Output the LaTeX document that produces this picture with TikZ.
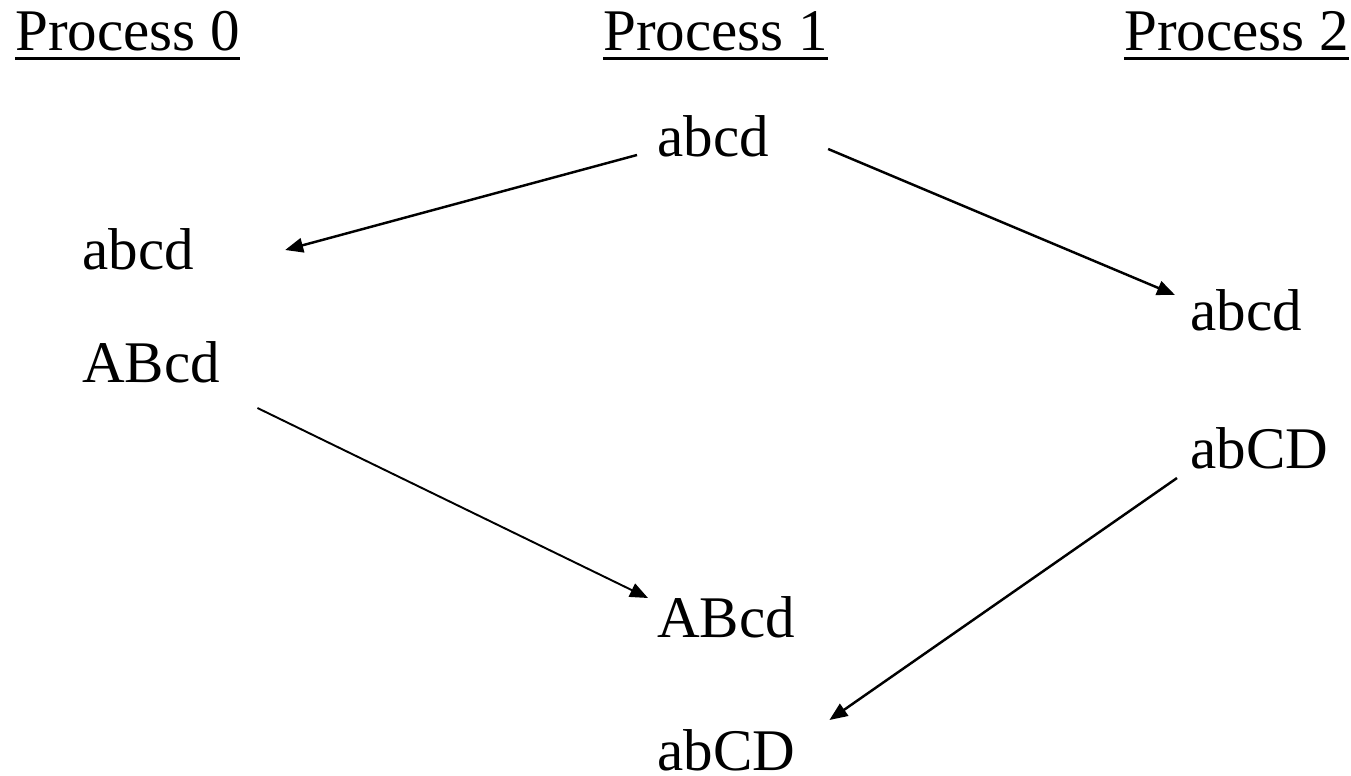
\documentclass[tikz,border=0pt]{standalone}
\usepackage{fontspec}
\setmainfont{Liberation Serif}
\usetikzlibrary{arrows.meta}
\tikzset{
  lbl/.style={inner sep=0pt, anchor=base west, font=\fontsize{33.6pt}{40pt}\selectfont},
  msg/.style={-{Triangle[length=0.36cm,width=0.29cm]}, line width=1.4pt},
  uline/.style={line width=2.1pt}
}
\begin{document}
\begin{tikzpicture}[x=0.02cm, y=-0.02cm]
  \useasboundingbox (0,0) rectangle (1351,776);

  % 見出し(3つのプロセス)
  \node[lbl] (h0) at (15,51) {Process 0};
  \node[lbl] (h1) at (603,51) {Process 1};
  \node[lbl] (h2) at (1124,51) {Process 2};

  % 見出しの下線
  \foreach \h in {h0,h1,h2}
    \draw[uline] ([yshift=-0.15cm]\h.base west) -- ([yshift=-0.15cm]\h.base east);

  % Process 0 の値
  \node[lbl] (p0a) at (82,270) {abcd};
  \node[lbl] (p0b) at (82,382) {ABcd};

  % Process 1 の値
  \node[lbl] (p1a) at (657,157) {abcd};
  \node[lbl] (p1b) at (657,637) {ABcd};
  \node[lbl] (p1c) at (657,770) {abCD};

  % Process 2 の値
  \node[lbl] (p2a) at (1190,331) {abcd};
  \node[lbl] (p2b) at (1190,468) {abCD};

  % メッセージの矢印
  \draw[msg] ([shift={(-20,-2)}]p1a.base west) -- ([shift={(91,-20)}]p0a.base east);
  \draw[msg] ([shift={(59,-8)}]p1a.base east) -- ([shift={(-15,-36)}]p2a.base west);
  \draw[msg, line width=1.1pt] ([shift={(37,26)}]p0b.base east) -- ([shift={(-9,-39)}]p1b.base west);
  \draw[msg] ([shift={(-13,10)}]p2b.base west) -- ([shift={(34,-50)}]p1c.base east);
\end{tikzpicture}
\end{document}
